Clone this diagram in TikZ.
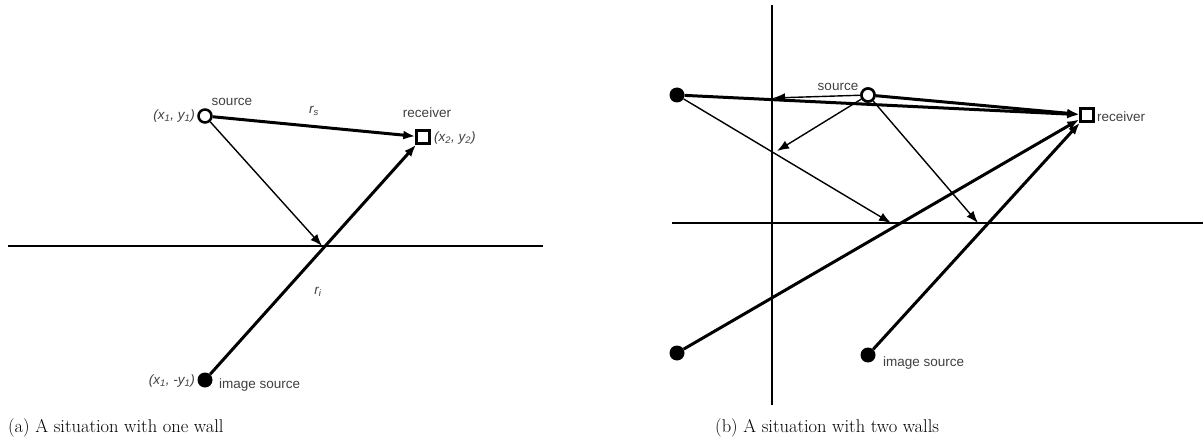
\documentclass[tikz,border=0pt]{standalone}
\usepackage{fontspec}
\newfontfamily\lblfont{Liberation Sans}
\usetikzlibrary{arrows.meta}
\tikzset{
  wall/.style={line width=2.7pt},
  ray/.style={line width=3pt},
  thinray/.style={line width=1.4pt},
  tip/.style={-{Latex[length=12pt,width=9pt]}},
  srcnode/.style={circle,draw,line width=2.5pt,minimum size=13pt,inner sep=0pt,fill=white},
  imgnode/.style={circle,fill=black,minimum size=15pt,inner sep=0pt},
  rcvnode/.style={rectangle,draw,line width=2.5pt,minimum size=13pt,inner sep=0pt,fill=white},
  lbl/.style={font=\lblfont\fontsize{13.5}{15}\selectfont,text=black!75,inner sep=0pt},
  captxt/.style={font=\fontsize{18.5}{21}\selectfont,anchor=west,inner sep=0pt}
}
\begin{document}
\begin{tikzpicture}[x=1pt,y=-1pt]
\useasboundingbox (0,0) rectangle (1203,441);
% ---------- (a) ----------
\coordinate (wA1) at (8,246);
\coordinate (wA2) at (543,246);
\draw[wall] (wA1) -- (wA2);
\coordinate (reflA) at (322,246);
\node[srcnode] (srcA) at (205,116) {};
\node[rcvnode] (rcvA) at (423,137) {};
\node[imgnode] (imgA) at (205,380) {};
\draw[thinray,tip] (srcA) -- (reflA);
\draw[ray,tip] (srcA) -- (rcvA);
\draw[ray,tip] (imgA) -- (rcvA);
\node[lbl] (lsrcA) at (232,102) {source};
\node[lbl] (lrcvA) at (427,113) {receiver};
\node[lbl,anchor=east] (lx1) at (195,116) {\itshape(x\textsubscript{1}, y\textsubscript{1})};
\node[lbl,anchor=west] (lx2) at (434,138) {\itshape(x\textsubscript{2}, y\textsubscript{2})};
\node[lbl] (lrs) at (314,111) {\itshape r\textsubscript{s}};
\node[lbl] (lri) at (318,292) {\itshape r\textsubscript{i}};
\node[lbl,anchor=east] (lx1m) at (195,381) {\itshape(x\textsubscript{1}, -y\textsubscript{1})};
\node[lbl,anchor=west] (limgA) at (219,385) {image source};
\node[captxt] (capA) at (8,428) {(a) A situation with one wall};
% ---------- (b) ----------
\coordinate (vw1) at (772,5);
\coordinate (vw2) at (772,405);
\coordinate (hw1) at (672,223);
\coordinate (hw2) at (1203,223);
\draw[wall] (vw1) -- (vw2);
\draw[wall] (hw1) -- (hw2);
\node[srcnode] (srcB) at (868,95) {};
\node[rcvnode] (rcvB) at (1087,115) {};
\node[imgnode] (im1) at (677,95) {};
\node[imgnode] (im2) at (868,355) {};
\node[imgnode] (im3) at (677,353) {};
\coordinate (vwHit) at (773,98);
\coordinate (dlHit) at (777,151);
\coordinate (h1) at (891,223);
\coordinate (h2) at (978,223);
\draw[thinray,tip] (srcB) -- (vwHit);
\draw[thinray,tip] (srcB) -- (dlHit);
\draw[thinray,tip] (im1) -- (h1);
\draw[thinray,tip] (srcB) -- (h2);
\draw[ray,tip] (im1) -- (rcvB);
\draw[ray,tip] (srcB) -- (rcvB);
\draw[ray,tip] (im3) -- (rcvB);
\draw[ray,tip] (im2) -- (rcvB);
\node[srcnode] at (srcB) {};
\node[lbl] (lsrcB) at (838,87) {source};
\node[lbl,anchor=west] (lrcvB) at (1097,117) {receiver};
\node[lbl,anchor=west] (limgB) at (883,363) {image source};
\node[captxt] (capB) at (715,428) {(b) A situation with two walls};
\end{tikzpicture}
\end{document}
